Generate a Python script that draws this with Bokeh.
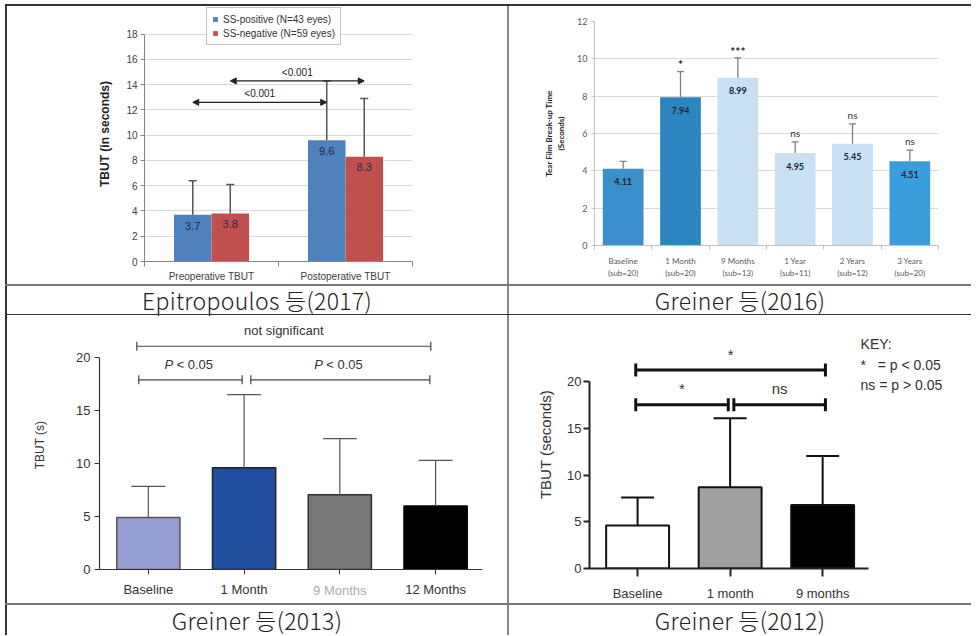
import numpy as np
from bokeh.plotting import figure
from bokeh.models import Range1d, FixedTicker, Legend, LegendItem, Arrow, NormalHead, Div, LinearAxis
from bokeh.layouts import row, column
from bokeh.core.properties import value
from bokeh.embed import file_html
from bokeh.resources import INLINE

# ---------------- data ----------------
# Epitropoulos et al. (2017)
p1_categories = ["Preoperative TBUT", "Postoperative TBUT"]
p1_series = ["SS-positive (N=43 eyes)", "SS-negative (N=59 eyes)"]
p1_ss_pos = [3.7, 9.6]
p1_ss_neg = [3.8, 8.3]
p1_ss_pos_sd = [2.7, 4.7]
p1_ss_neg_sd = [2.3, 4.6]
p1_pvalues = ["<0.001", "<0.001"]
p1_arrow_y = [12.6, 14.3]
p1_y_ticks = list(range(0, 19, 2))

# Greiner et al. (2016)
p2_categories = ["Baseline\n(sub=20)", "1 Month\n(sub=20)", "9 Months\n(sub=13)",
                 "1 Year\n(sub=11)", "2 Years\n(sub=12)", "3 Years\n(sub=20)"]
p2_values = [4.11, 7.94, 8.99, 4.95, 5.45, 4.51]
p2_sd = [0.40, 1.38, 1.06, 0.60, 1.07, 0.60]
p2_sig = ["", "*", "***", "ns", "ns", "ns"]
p2_y_ticks = list(range(0, 13, 2))

# Greiner et al. (2013)
p3_categories = ["Baseline", "1 Month", "9 Months", "12 Months"]
p3_values = [4.9, 9.6, 7.05, 6.0]
p3_sd = [2.95, 6.9, 5.3, 4.3]
p3_y_ticks = [0, 5, 10, 15, 20]
p3_br_x0 = [-0.12, -0.10, 1.07]
p3_br_x1 = [2.95, 0.98, 2.94]
p3_br_y = [21.07, 17.9, 17.9]
p3_br_text = ["not significant", "P < 0.05", "P < 0.05"]

# Greiner et al. (2012)
p4_categories = ["Baseline", "1 month", "9 months"]
p4_values = [4.6, 8.7, 6.8]
p4_sd = [3.0, 7.4, 5.25]
p4_y_ticks = [0, 5, 10, 15, 20]
p4_br_x0 = [-0.02, -0.02, 1.04]
p4_br_x1 = [2.03, 0.98, 2.03]
p4_br_y = [21.26, 17.55, 17.55]
p4_br_text = ["*", "*", "ns"]
p4_key_lines = ["KEY:", "*\u00a0\u00a0\u00a0= p < 0.05", "ns = p > 0.05"]
p4_key_x = 2.41
p4_key_y = [24.08, 21.8, 19.7]

captions = ["Epitropoulos 등(2017)", "Greiner 등(2016)", "Greiner 등(2013)", "Greiner 등(2012)"]

ARIAL = "Liberation Sans"
CALIBRI = "Lato"


def base_fig(w, h, xr, yr, l, r, t, b):
    p = figure(width=w, height=h, x_range=Range1d(*xr), y_range=Range1d(*yr),
               output_backend="svg", toolbar_location=None, margin=0,
               min_border_left=l, min_border_right=r, min_border_top=t, min_border_bottom=b)
    p.frame_align = False
    p.outline_line_color = None
    p.background_fill_color = "white"
    p.border_fill_color = "white"
    p.xgrid.grid_line_color = None
    p.ygrid.grid_line_color = None
    return p


def err_bars(p, xs, vals, sds, color, lw, cap):
    tops = np.array(vals) + np.array(sds)
    p.segment(x0=xs, y0=vals, x1=xs, y1=tops, line_color=color, line_width=lw)
    p.scatter(x=xs, y=tops, marker="dash", size=cap, line_color=color, line_width=lw)
    return tops


# ---------------- panel 1 ----------------
n1 = len(p1_categories)
p1 = base_fig(500, 278, (0, n1), (0, 20.19), 137, 95, 0, 20)
xc1 = np.arange(n1) + 0.5
pos_x = xc1 - 0.14
neg_x = xc1 + 0.14
p1.ygrid.grid_line_color = "#d9d9d9"
p1.ygrid.ticker = FixedTicker(ticks=p1_y_ticks)
r_pos = p1.vbar(x=pos_x, top=p1_ss_pos, width=0.28, fill_color="#4f81bd", line_color=None)
r_neg = p1.vbar(x=neg_x, top=p1_ss_neg, width=0.28, fill_color="#c0504d", line_color=None)
err_bars(p1, pos_x, p1_ss_pos, p1_ss_pos_sd, "#555555", 1.5, 8)
err_bars(p1, neg_x, p1_ss_neg, p1_ss_neg_sd, "#555555", 1.5, 8)
for xs, vals in ((pos_x, p1_ss_pos), (neg_x, p1_ss_neg)):
    p1.text(x=xs, y=np.array(vals) - 0.85, text=[f"{v:.1f}" for v in vals],
            text_align="center", text_baseline="middle", text_font_size="11px",
            text_color="#1b2a47", text_font=value(ARIAL))
arrow_pairs = [(pos_x[0], pos_x[1]), (neg_x[0], neg_x[1])]
for (xa, xb), ya in zip(arrow_pairs, p1_arrow_y):
    p1.add_layout(Arrow(start=NormalHead(size=6, fill_color="#222", line_color="#222"),
                        end=NormalHead(size=6, fill_color="#222", line_color="#222"),
                        x_start=xa, y_start=ya, x_end=xb, y_end=ya,
                        line_color="#222", line_width=1.2))
p1.text(x=[(a + b) / 2 for a, b in arrow_pairs], y=np.array(p1_arrow_y) + 0.7, text=p1_pvalues,
        text_align="center", text_baseline="middle", text_font_size="10px",
        text_color="#222", text_font=value(ARIAL))
legend = Legend(items=[LegendItem(label=p1_series[0], renderers=[r_pos]),
                       LegendItem(label=p1_series[1], renderers=[r_neg])],
                location=(62, 216), label_text_font_size="10px", label_text_font=ARIAL,
                label_text_color="#333", glyph_width=6, glyph_height=6, label_height=12,
                label_standoff=5, spacing=2, padding=5, margin=0,
                border_line_color="#888", border_line_width=1.5)
p1.add_layout(legend)
ya = p1.yaxis[0]
ya.bounds = (0, 18)
ya.ticker = FixedTicker(ticks=p1_y_ticks)
ya.axis_line_color = "#868686"
ya.major_tick_line_color = "#868686"
ya.major_tick_out = 4
ya.major_tick_in = 0
ya.minor_tick_line_color = None
ya.major_label_text_font_size = "10px"
ya.major_label_text_color = "#404040"
ya.major_label_text_font = ARIAL
ya.major_label_standoff = 3
ya.axis_label = "TBUT (in seconds)"
ya.axis_label_text_font_style = "bold"
ya.axis_label_text_font_size = "12px"
ya.axis_label_text_color = "#222"
ya.axis_label_text_font = ARIAL
ya.axis_label_standoff = 11
xa1 = p1.xaxis[0]
xa1.ticker = FixedTicker(ticks=list(xc1), minor_ticks=list(range(n1 + 1)))
xa1.major_label_overrides = {float(x): c for x, c in zip(xc1, p1_categories)}
xa1.major_tick_line_color = None
xa1.major_tick_out = 0
xa1.minor_tick_out = 5
xa1.minor_tick_in = 0
xa1.minor_tick_line_color = "#868686"
xa1.axis_line_color = "#868686"
xa1.major_label_text_font_size = "10px"
xa1.major_label_text_color = "#404040"
xa1.major_label_text_font = ARIAL
xa1.major_label_standoff = 4

# ---------------- panel 2 ----------------
n2 = len(p2_categories)
p2 = base_fig(462, 278, (0, n2), (0, 12), 85, 33, 15, 39)
xc2 = np.arange(n2) + 0.5
p2_colors = ["#3b8fcb", "#2d85c0", "#c8e0f4", "#c8e0f4", "#c8e0f4", "#3a9edd"]
p2.ygrid.grid_line_color = "#d9d9d9"
p2.ygrid.ticker = FixedTicker(ticks=p2_y_ticks)
p2.vbar(x=xc2, top=p2_values, width=0.71, fill_color=p2_colors, line_color=None)
tops2 = err_bars(p2, xc2, p2_values, p2_sd, "#7f7f7f", 1.3, 7)
p2.text(x=xc2, y=np.array(p2_values) - 0.7, text=[f"{v:.2f}" for v in p2_values],
        text_align="center", text_baseline="middle", text_font_size="9px",
        text_font_style="bold", text_color="#1a2533", text_font=value(CALIBRI))
star_x = [x for x, s in zip(xc2, p2_sig) if s.startswith("*")]
star_y = [t for t, s in zip(tops2, p2_sig) if s.startswith("*")]
star_t = [s for s in p2_sig if s.startswith("*")]
ns_x = [x for x, s in zip(xc2, p2_sig) if s == "ns"]
ns_y = [t for t, s in zip(tops2, p2_sig) if s == "ns"]
ns_t = [s for s in p2_sig if s == "ns"]
p2.text(x=star_x, y=np.array(star_y) - 0.05, text=star_t, text_align="center",
        text_baseline="bottom", text_font_size="12px", text_font_style="bold",
        text_color="#222", text_font=value(CALIBRI))
p2.text(x=ns_x, y=np.array(ns_y) + 0.15, text=ns_t, text_align="center",
        text_baseline="bottom", text_font_size="10px", text_color="#333", text_font=value(CALIBRI))
ya2 = p2.yaxis[0]
ya2.ticker = FixedTicker(ticks=p2_y_ticks)
ya2.axis_line_color = "#bfbfbf"
ya2.major_tick_line_color = "#bfbfbf"
ya2.major_tick_out = 3
ya2.major_tick_in = 0
ya2.minor_tick_line_color = None
ya2.major_label_text_font_size = "9px"
ya2.major_label_text_color = "#595959"
ya2.major_label_text_font = CALIBRI
ya2.major_label_standoff = 4
ya2.axis_label = "Tear Film Break-up Time\n(Seconds)"
ya2.axis_label_text_font_style = "bold"
ya2.axis_label_text_font_size = "8px"
ya2.axis_label_text_color = "#222"
ya2.axis_label_text_font = CALIBRI
ya2.axis_label_standoff = 8
xa2 = p2.xaxis[0]
xa2.ticker = FixedTicker(ticks=list(xc2), minor_ticks=list(range(n2 + 1)))
xa2.major_label_overrides = {float(x): c for x, c in zip(xc2, p2_categories)}
xa2.major_tick_line_color = None
xa2.major_tick_out = 0
xa2.minor_tick_out = 4
xa2.minor_tick_in = 0
xa2.minor_tick_line_color = "#bfbfbf"
xa2.axis_line_color = "#bfbfbf"
xa2.major_label_text_font_size = "8px"
xa2.major_label_text_color = "#595959"
xa2.major_label_text_font = CALIBRI
xa2.major_label_standoff = 6


# ---------------- panel 3 ----------------
def bracket(p, x0s, x1s, ys, color, lw, tick):
    p.segment(x0=x0s, y0=ys, x1=x1s, y1=ys, line_color=color, line_width=lw)
    p.scatter(x=list(x0s) + list(x1s), y=list(ys) + list(ys), marker="dash", angle=np.pi / 2,
              size=tick, line_color=color, line_width=lw)


n3 = len(p3_categories)
p3 = base_fig(500, 288, (-0.51, n3 - 0.51), (0, 23.5), 92, 25, 5, 34)
x3 = np.arange(n3)
p3_colors = ["#959fd3", "#1f4e9f", "#777777", "#000000"]
p3.vbar(x=x3, top=p3_values, width=0.66, fill_color=p3_colors,
        line_color=["#555", "#222", "#333", "#000"], line_width=1.5)
err_bars(p3, x3, p3_values, p3_sd, "#555555", 1.2, 34)
bracket(p3, p3_br_x0, p3_br_x1, p3_br_y, "#444", 1.2, 9)
mid3 = [(a + b) / 2 for a, b in zip(p3_br_x0, p3_br_x1)]
for m, yb, t in zip(mid3, p3_br_y, p3_br_text):
    if t.startswith("P "):
        p3.text(x=[m], y=[yb + 1.45], text=["P"], text_align="left", text_baseline="middle",
                x_offset=-26, text_font_size="13px", text_font_style="italic",
                text_color="#333", text_font=value(ARIAL))
        p3.text(x=[m], y=[yb + 1.45], text=[t[2:]], text_align="left", text_baseline="middle",
                x_offset=-14, text_font_size="13px", text_color="#333", text_font=value(ARIAL))
    else:
        p3.text(x=[m], y=[yb + 1.45], text=[t], text_align="center", text_baseline="middle",
                text_font_size="13px", text_color="#333", text_font=value(ARIAL))
ya3 = p3.yaxis[0]
ya3.bounds = (0, 20)
ya3.ticker = FixedTicker(ticks=p3_y_ticks)
ya3.axis_line_color = "#333"
ya3.axis_line_width = 1.2
ya3.major_tick_line_color = "#333"
ya3.major_tick_out = 5
ya3.major_tick_in = 0
ya3.minor_tick_line_color = None
ya3.major_label_text_font_size = "13px"
ya3.major_label_text_color = "#333"
ya3.major_label_text_font = ARIAL
ya3.major_label_standoff = 4
ya3.axis_label = "TBUT (s)"
ya3.axis_label_text_font_style = "normal"
ya3.axis_label_text_font_size = "12px"
ya3.axis_label_text_color = "#333"
ya3.axis_label_text_font = ARIAL
ya3.axis_label_standoff = 26
grey_cats = ["9 Months"]
xa3 = p3.xaxis[0]
xa3.ticker = FixedTicker(ticks=list(x3))
xa3.major_label_overrides = {int(i): ("" if c in grey_cats else c) for i, c in zip(x3, p3_categories)}
xa3.axis_line_color = "#333"
xa3.axis_line_width = 1.2
xa3.major_tick_line_color = "#333"
xa3.major_tick_out = 5
xa3.major_tick_in = 0
xa3.minor_tick_line_color = None
xa3.major_label_text_font_size = "13px"
xa3.major_label_text_color = "#333"
xa3.major_label_text_font = ARIAL
xa3.major_label_standoff = 7
grey_ticks = [int(i) for i, c in zip(x3, p3_categories) if c in grey_cats]
xa3b = LinearAxis(ticker=FixedTicker(ticks=grey_ticks),
                  major_label_overrides={i: p3_categories[i] for i in grey_ticks},
                  axis_line_color=None, major_tick_line_color=None, minor_tick_line_color=None,
                  major_tick_out=0, major_tick_in=0, major_label_standoff=-17,
                  major_label_text_font_size="13px", major_label_text_color="#aaaaaa",
                  major_label_text_font=ARIAL)
p3.add_layout(xa3b, "below")

# ---------------- panel 4 ----------------
n4 = len(p4_categories)
p4 = base_fig(462, 288, (-0.52, 3.49), (0, 26.57), 80, 11, 5, 35)
x4 = np.arange(n4)
p4_colors = ["#ffffff", "#a0a0a0", "#000000"]
p4.vbar(x=x4, top=p4_values, width=0.68, fill_color=p4_colors, line_color="#111", line_width=2)
err_bars(p4, x4, p4_values, p4_sd, "#111", 2, 33)
bracket(p4, p4_br_x0, p4_br_x1, p4_br_y, "#111", 3, 13)
mid4 = [(a + b) / 2 for a, b in zip(p4_br_x0, p4_br_x1)]
p4.text(x=mid4, y=np.array(p4_br_y) + 0.8, text=p4_br_text, text_align="center",
        text_baseline="bottom", text_font_size="15px", text_color="#333", text_font=value(ARIAL))
p4.text(x=[p4_key_x] * len(p4_key_lines), y=p4_key_y, text=p4_key_lines, text_align="left",
        text_baseline="middle", text_font_size="14px", text_color="#333", text_font=value(ARIAL))
ya4 = p4.yaxis[0]
ya4.bounds = (0, 20)
ya4.ticker = FixedTicker(ticks=p4_y_ticks)
ya4.axis_line_color = "#222"
ya4.axis_line_width = 2
ya4.major_tick_line_color = "#222"
ya4.major_tick_line_width = 2
ya4.major_tick_out = 6
ya4.major_tick_in = 0
ya4.minor_tick_line_color = None
ya4.major_label_text_font_size = "13px"
ya4.major_label_text_color = "#333"
ya4.major_label_text_font = ARIAL
ya4.major_label_standoff = 2
ya4.axis_label = "TBUT (seconds)"
ya4.axis_label_text_font_style = "normal"
ya4.axis_label_text_font_size = "15px"
ya4.axis_label_text_color = "#333"
ya4.axis_label_text_font = ARIAL
ya4.axis_label_standoff = 10
xa4 = p4.xaxis[0]
xa4.bounds = (-0.52, n4 - 0.5)
xa4.ticker = FixedTicker(ticks=list(x4))
xa4.major_label_overrides = {int(i): c for i, c in zip(x4, p4_categories)}
xa4.axis_line_color = "#222"
xa4.axis_line_width = 2
xa4.major_tick_line_color = "#222"
xa4.major_tick_line_width = 2
xa4.major_tick_out = 8
xa4.major_tick_in = 0
xa4.minor_tick_line_color = None
xa4.major_label_text_font_size = "13px"
xa4.major_label_text_color = "#333"
xa4.major_label_text_font = ARIAL
xa4.major_label_standoff = 9


# ---------------- table layout ----------------
def line_div(w, h, color):
    return Div(text="", width=w, height=h, margin=0, styles={"background-color": color})


def cap(i, w, h):
    return Div(text=captions[i], width=w, height=h, margin=0,
               styles={"font-family": "'Noto Sans CJK KR', sans-serif", "font-size": "23px",
                       "font-weight": "300", "letter-spacing": "0.3px", "color": "#222",
                       "text-align": "center", "line-height": f"{h}px",
                       "background-color": "white"})


W1, W2 = 500, 462
TOTAL = 2 + W1 + 2 + W2
H1, H2, HC1, HC2 = 278, 288, 28, 30
root = column(
    line_div(TOTAL, 2, "#333"),
    row(line_div(2, H1, "#333"), p1, line_div(2, H1, "#888"), p2),
    line_div(TOTAL, 2, "#777"),
    row(line_div(2, HC1, "#333"), cap(0, W1, HC1), line_div(2, HC1, "#888"), cap(1, W2, HC1)),
    line_div(TOTAL, 1, "#333"),
    row(line_div(2, H2, "#333"), p3, line_div(2, H2, "#888"), p4),
    line_div(TOTAL, 2, "#777"),
    row(line_div(2, HC2, "#333"), cap(2, W1, HC2), line_div(2, HC2, "#888"), cap(3, W2, HC2)),
    styles={"margin-left": "5px", "margin-top": "4px"},
)

open("out.html", "w").write(file_html(root, INLINE, "TBUT"))
